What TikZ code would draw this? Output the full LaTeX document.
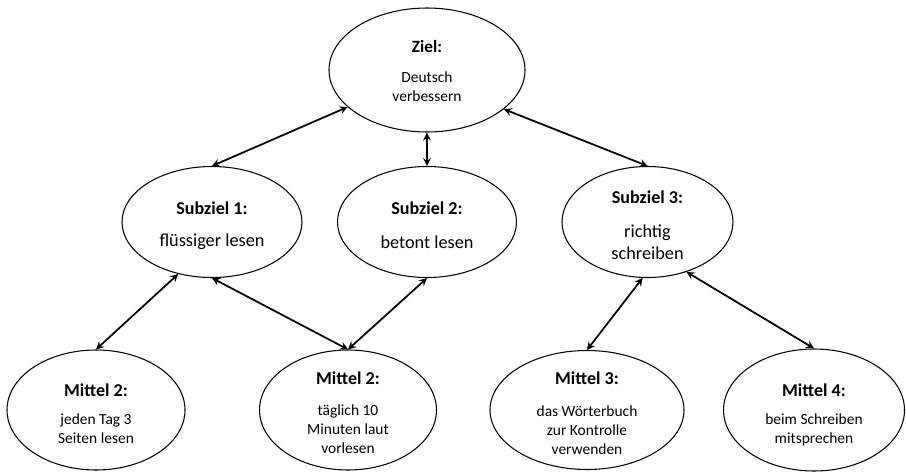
\documentclass[tikz,border=0pt]{standalone}
\usepackage{fontspec}
\setmainfont{Carlito}
\usepackage{tikz}
\usetikzlibrary{shapes.geometric}

\tikzset{
  oval/.style = {draw, ellipse, line width = 0.6pt, inner sep = 0pt},
  kopf/.style = {font = \fontsize{10.3}{12}\selectfont\bfseries},
  info/.style = {align = center, font = \fontsize{8.8}{10.8}\selectfont},
  infogross/.style = {align = center, font = \fontsize{10.4}{12.4}\selectfont}
}

\begin{document}
\begin{tikzpicture} [<->, >= stealth, line width = 1pt]

\useasboundingbox (0,0) rectangle (18.12,-9.44);

\node [oval, minimum width = 3.92cm, minimum height = 2.48cm] (ziel) at (8.54,-1.40) {};
\node [kopf, font = \fontsize{9.8}{12}\selectfont\bfseries] (zielkopf) at (8.54,-0.94) {Ziel:};
\node [info] (zieltext) at (8.54,-1.74) {Deutsch\\verbessern};

\node [oval, minimum width = 3.60cm, minimum height = 2.22cm] (sub1) at (4.24,-4.44) {};
\node [kopf] (sub1kopf) at (4.24,-4.16) {Subziel 1:};
\node [infogross] (sub1text) at (4.24,-4.84) {flüssiger lesen};

\node [oval, minimum width = 3.58cm, minimum height = 2.22cm] (sub2) at (8.54,-4.44) {};
\node [kopf] (sub2kopf) at (8.54,-4.16) {Subziel 2:};
\node [infogross] (sub2text) at (8.54,-4.84) {betont lesen};

\node [oval, minimum width = 3.42cm, minimum height = 2.22cm] (sub3) at (12.95,-4.44) {};
\node [kopf] (sub3kopf) at (12.95,-3.94) {Subziel 3:};
\node [infogross] (sub3text) at (12.95,-4.84) {richtig\\schreiben};

\path (ziel.205) edge (sub1.north);
\path (ziel.south) edge (sub2.north);
\path (ziel.333) edge (sub3.north);

\node [oval, minimum width = 3.56cm, minimum height = 2.40cm] (mit1) at (1.92,-8.20) {};
\node [kopf] (mit1kopf) at (1.92,-7.80) {Mittel 2:};
\node [info] (mit1text) at (1.92,-8.58) {jeden Tag 3\\Seiten lesen};

\node [oval, minimum width = 3.54cm, minimum height = 2.40cm] (mit2) at (6.96,-8.20) {};
\node [kopf] (mit2kopf) at (6.96,-7.56) {Mittel 2:};
\node [info] (mit2text) at (6.96,-8.58) {täglich 10\\Minuten laut\\vorlesen};

\node [oval, minimum width = 3.88cm, minimum height = 2.38cm] (mit3) at (11.74,-8.20) {};
\node [kopf] (mit3kopf) at (11.74,-7.56) {Mittel 3:};
\node [info] (mit3text) at (11.74,-8.60) {das Wörterbuch\\zur Kontrolle\\verwenden};

\node [oval, minimum width = 3.62cm, minimum height = 2.44cm] (mit4) at (16.28,-8.20) {};
\node [kopf] (mit4kopf) at (16.28,-7.80) {Mittel 4:};
\node [info] (mit4text) at (16.28,-8.60) {beim Schreiben\\mitsprechen};

\path (sub1.237) edge (mit1.north);
\path (sub1.south) edge (mit2.north);
\path (sub2.south) edge (mit2.north);
\path (sub3.265) edge (mit3.north);
\path (sub3.308) edge (mit4.north);

\end{tikzpicture}
\end{document}
